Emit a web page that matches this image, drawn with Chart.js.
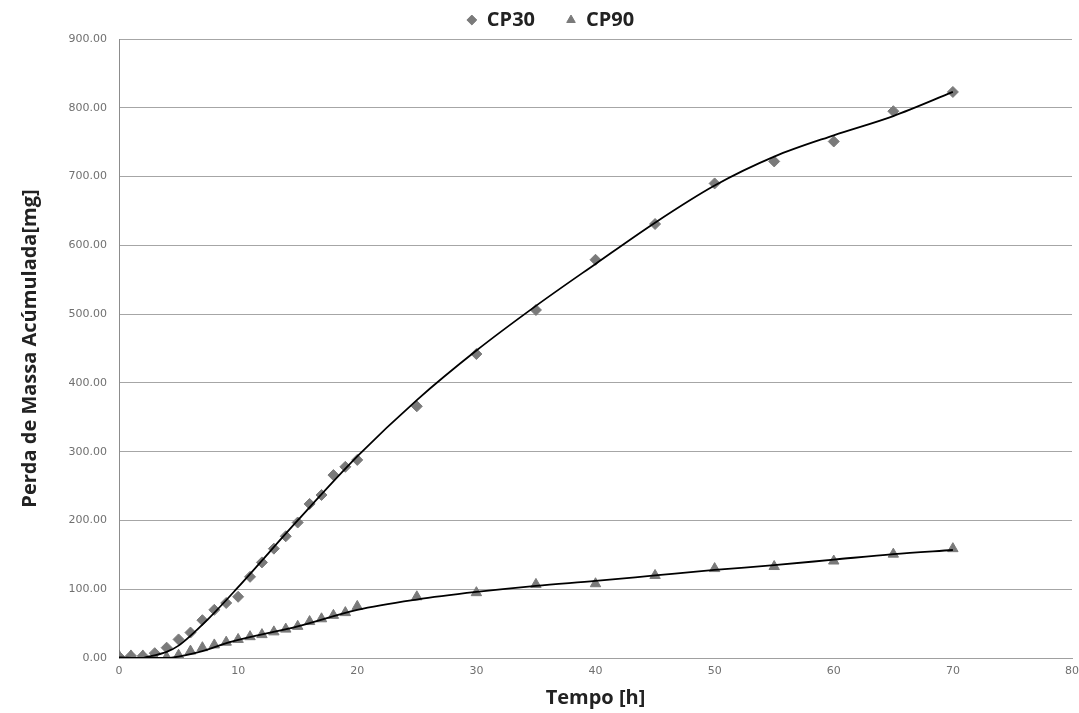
<!DOCTYPE html>
<html>
<head>
<meta charset="utf-8">
<script src="https://cdn.jsdelivr.net/npm/chart.js@4/dist/chart.umd.min.js"></script>
<style>
  html, body { margin: 0; padding: 0; background: #ffffff; }
  #wrap { width: 1079px; height: 713px; }
</style>
</head>
<body>
<div id="wrap"><canvas id="c" width="1079" height="713"></canvas></div>
<script>
// Measurement times [h]
const hours = [0,1,2,3,4,5,6,7,8,9,10,11,12,13,14,15,16,17,18,19,20,25,30,35,40,45,50,55,60,65,70];
// Accumulated mass loss [mg]
const cp30 = [2,3,3,7,15,27,37,55,70,80,89,118,139,159,177,197,224,237,266,278,288,366,442,506,579,631,690,722,751,795,823];
const cp90 = [3,3,3,0,1,4,10,15,19,23,27,31,34,38,42,46,53,57,62,66,75,89,95,107,108,120,130,133,141,151,159];

// Trend curves
const cp30TrendX = [2,4,5,7.5,10,15,20,25,30,35,40,45,50,55,60,65,70];
const cp30TrendY = [0,9,18,57,103,200,293,375,447,512,573,633,687,729,760,788,823];
const cp90TrendX = [0,2,4,5,7,9.3,15,20,25,30,35,40,45,50,55,60,65,70];
const cp90TrendY = [1,0,0,2,10,23,46,70,85,96,105,112,120,128,135,143,151,157];

// Axis ticks
const xTicks = [0,10,20,30,40,50,60,70,80];
const yTicks = [0,100,200,300,400,500,600,700,800,900];

const seriesNames = ['CP30', 'CP90'];

const toPts = (xs, ys) => xs.map((x, i) => ({ x: x, y: ys[i] }));

const markerColor = '#7a7a7a';
const titleFont = { family: 'Open Sans', size: 20, weight: 'bold' };
const tickFont = { family: 'DejaVu Sans', size: 11 };

const legendShift = {
  id: 'legendShift',
  afterLayout(chart) {
    const lg = chart.legend;
    if (!lg) return;
    lg.left += 14; lg.right += 14;
    lg.top -= 21;
  }
};

new Chart(document.getElementById('c'), {
  type: 'scatter',
  data: {
    datasets: [
      {
        label: seriesNames[0],
        data: toPts(hours, cp30),
        pointStyle: 'rectRot',
        pointRadius: 5.5,
        pointHoverRadius: 5.5,
        backgroundColor: markerColor,
        borderColor: markerColor,
        borderWidth: 1,
        showLine: false,
        order: 2
      },
      {
        label: seriesNames[1],
        data: toPts(hours, cp90),
        pointStyle: 'triangle',
        pointRadius: 6,
        pointHoverRadius: 6,
        backgroundColor: markerColor,
        borderColor: markerColor,
        borderWidth: 1,
        showLine: false,
        order: 2
      },
      {
        label: 'trend30',
        type: 'line',
        data: toPts(cp30TrendX, cp30TrendY),
        borderColor: '#000000',
        borderWidth: 1.8,
        pointRadius: 0,
        cubicInterpolationMode: 'monotone',
        fill: false,
        order: 0
      },
      {
        label: 'trend90',
        type: 'line',
        data: toPts(cp90TrendX, cp90TrendY),
        borderColor: '#000000',
        borderWidth: 1.8,
        pointRadius: 0,
        cubicInterpolationMode: 'monotone',
        fill: false,
        order: 0
      }
    ]
  },
  options: {
    responsive: false,
    animation: false,
    devicePixelRatio: 1,
    layout: { padding: { left: 0, right: 6, top: 0, bottom: 0 } },
    plugins: {
      tooltip: { enabled: false },
      legend: {
        display: true,
        position: 'top',
        maxHeight: 39,
        labels: {
          usePointStyle: true,
          boxWidth: 10,
          boxHeight: 7,
          padding: 31,
          color: '#222222',
          font: titleFont,
          filter: (item) => seriesNames.includes(item.text)
        }
      }
    },
    scales: {
      x: {
        type: 'linear',
        min: 0,
        max: 80,
        afterBuildTicks: (s) => { s.ticks = xTicks.map(v => ({ value: v })); },
        afterFit: (s) => { s.height = 55; s.paddingRight = 0; },
        grid: { display: false, drawTicks: false },
        border: { display: true, color: '#a0a0a0' },
        ticks: { color: '#707070', font: tickFont, padding: 7, maxRotation: 0 },
        title: { display: true, text: 'Tempo [h]', color: '#222222', font: titleFont, padding: { top: 0, bottom: 3 } }
      },
      y: {
        type: 'linear',
        min: 0,
        max: 900,
        afterBuildTicks: (s) => { s.ticks = yTicks.map(v => ({ value: v })); },
        afterFit: (s) => { s.width = 119; },
        grid: { display: true, color: '#a6a6a6', lineWidth: 1, drawTicks: false },
        border: { display: true, color: '#8c8c8c' },
        ticks: { color: '#707070', font: tickFont, padding: 12, callback: (v) => Number(v).toFixed(2) },
        title: { display: true, text: 'Perda de Massa Acúmulada[mg]', color: '#222222', font: titleFont, padding: { top: 18, bottom: 0 } }
      }
    }
  },
  plugins: [legendShift]
});
</script>
</body>
</html>
